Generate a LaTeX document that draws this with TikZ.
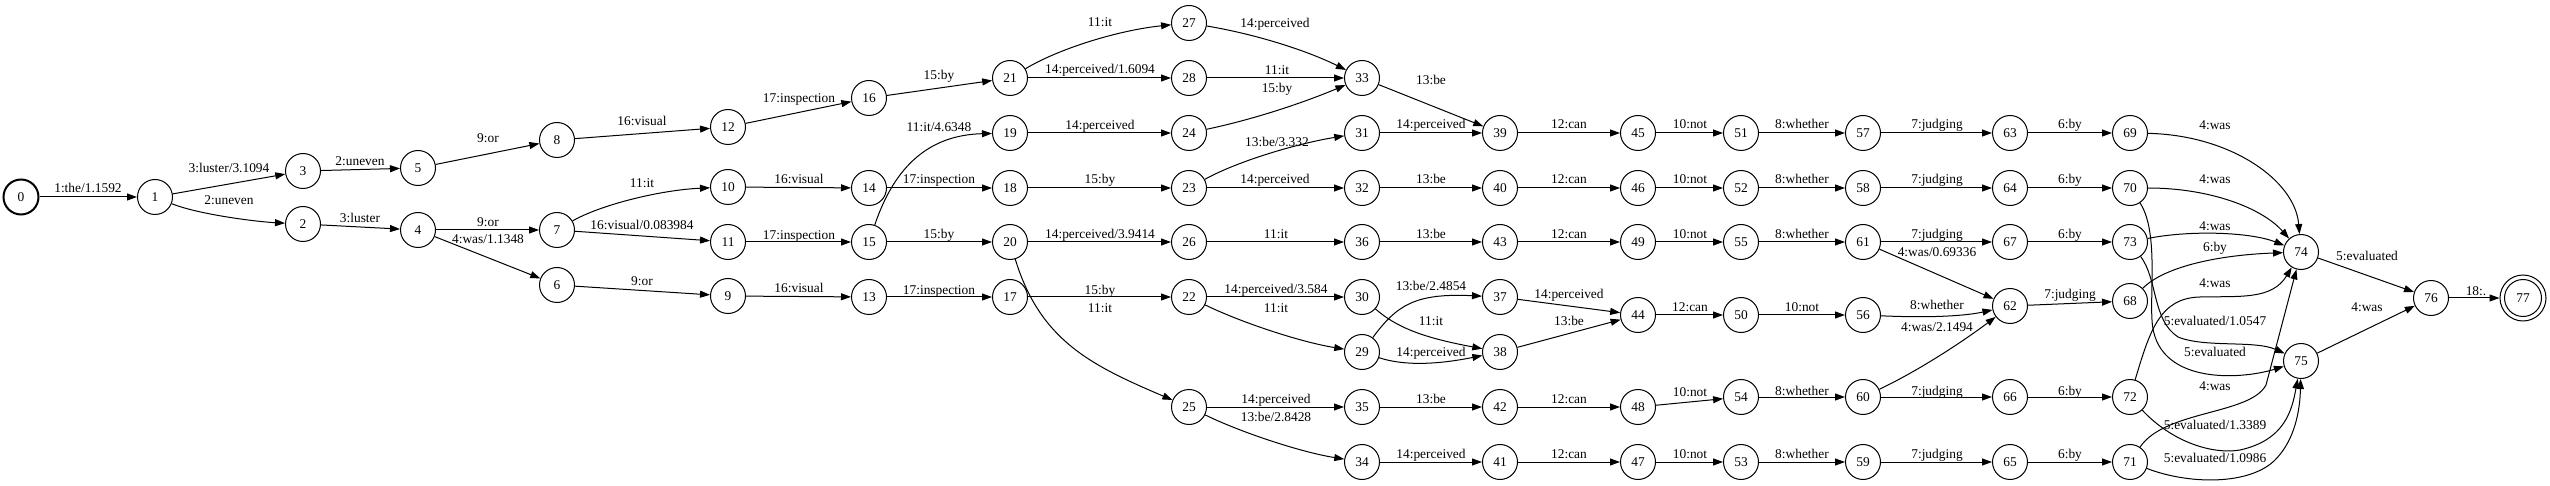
\documentclass[tikz,border=0pt]{standalone}
\usepackage{fontspec}
\setmainfont{Liberation Serif}
\usetikzlibrary{arrows.meta}
\begin{document}
\begin{tikzpicture}[x=0.5pt,y=-0.5pt,
  st/.style={draw,circle,line width=0.5pt,minimum size=17.5pt,inner sep=0pt,font=\fontsize{6.7}{8}\selectfont},
  lab/.style={inner sep=0pt,font=\fontsize{6.7}{8}\selectfont,text height=4.6pt,text depth=1.4pt},
  arr/.style={line width=0.5pt,-{Triangle[length=5pt,width=3.5pt]}}]
\useasboundingbox (0,0) rectangle (2550,486);
% states
\node[st,line width=1pt] (0) at (21,197) {0};
\foreach \n/\x/\y in {1/155/197,3/303/171,2/303/224,5/418/168,4/418/230,
  8/557/140,7/557/230,6/557/285,12/728/127,10/728/187,11/728/242,9/728/296,
  16/869/98,14/869/188,15/869/242,13/869/297,
  21/1010/78,19/1010/133,18/1010/188,20/1010/242,17/1010/297,
  27/1189/23,28/1189/78,24/1189/133,23/1189/188,26/1189/242,22/1189/297,25/1189/407,
  33/1362/78,31/1362/133,32/1362/188,36/1362/242,30/1362/297,29/1362/352,35/1362/407,34/1362/462,
  39/1500/133,40/1500/188,43/1500/242,37/1500/297,38/1500/352,42/1500/407,41/1500/462,
  45/1638/133,46/1638/188,49/1638/242,44/1638/315,48/1638/407,47/1638/462,
  51/1741/133,52/1741/188,55/1741/242,50/1741/315,54/1741/397,53/1741/462,
  57/1863/133,58/1863/188,61/1863/242,56/1863/315,60/1863/397,59/1863/462,
  63/2010/133,64/2010/188,67/2010/242,62/2010/306,66/2010/397,65/2010/462,
  69/2130/133,70/2130/188,73/2130/242,68/2130/301,72/2130/397,71/2130/462,
  74/2301/252,75/2301/361,76/2431/298}
  \node[st] (\n) at (\x,\y) {\n};
\node[st,minimum size=18.5pt] (77) at (2523,298) {77};
\node[st,minimum size=23pt] (77o) at (2523,298) {};
% straight transitions
\foreach \a/\b in {0/1,1/3,3/5,2/4,5/8,4/7,4/6,8/12,7/11,6/9,12/16,10/14,11/15,9/13,
  16/21,14/18,15/20,13/17,21/28,19/24,18/23,20/26,17/22,28/33,23/32,26/36,22/30,25/35,
  33/39,31/39,32/40,36/43,35/42,34/41,39/45,40/46,43/49,37/44,38/44,42/48,41/47,
  45/51,46/52,49/55,44/50,48/54,47/53,51/57,52/58,55/61,50/56,54/60,53/59,
  57/63,58/64,61/67,61/62,60/66,59/65,63/69,64/70,67/73,62/68,66/72,65/71,
  74/76,75/76,76/77o}
  \draw[arr] (\a) -- (\b);
% curved transitions
\draw[arr] (1) .. controls (200,215) and (260,222) .. (2);
\draw[arr] (7) .. controls (600,205) and (660,190) .. (10);
\draw[arr] (15) .. controls (895,165) and (930,135) .. (19);
\draw[arr] (20) .. controls (1040,340) and (1090,365) .. (25);
\draw[arr] (21) .. controls (1060,48) and (1120,30) .. (27);
\draw[arr] (23) .. controls (1240,160) and (1300,143) .. (31);
\draw[arr] (22) .. controls (1240,322) and (1300,342) .. (29);
\draw[arr] (25) .. controls (1240,432) and (1300,452) .. (34);
\draw[arr] (29) .. controls (1397,305) and (1415,293) .. (37);
\draw[arr] (30) .. controls (1397,328) and (1425,338) .. (38);
\draw[arr] (29) .. controls (1410,368) and (1450,362) .. (38);
\draw[arr] (24) .. controls (1260,118) and (1310,100) .. (33);
\draw[arr] (27) .. controls (1260,35) and (1310,52) .. (33);
\draw[arr] (56) .. controls (1930,318) and (1965,316) .. (62);
\draw[arr] (60) .. controls (1920,370) and (1965,340) .. (62);
\draw[arr] (69) .. controls (2230,135) and (2295,180) .. (74);
\draw[arr] (70) .. controls (2210,188) and (2262,208) .. (74);
\draw[arr] (73) .. controls (2190,230) and (2250,232) .. (74);
\draw[arr] (68) .. controls (2165,266) and (2220,255) .. (74);
\draw[arr] (72) .. controls (2150,330) and (2160,298) .. (2200,297) .. controls (2240,296) and (2272,300) .. (74);
\draw[arr] (71) .. controls (2165,410) and (2250,415) .. (2266,385) -- (74);
\draw[arr] (70) .. controls (2158,230) and (2150,290) .. (2152,320) .. controls (2155,385) and (2240,380) .. (75);
\draw[arr] (73) .. controls (2158,280) and (2152,320) .. (2178,337) .. controls (2205,348) and (2255,340) .. (75);
\draw[arr] (72) .. controls (2170,440) and (2210,455) .. (2240,450) .. controls (2285,440) and (2292,410) .. (75);
\draw[arr] (71) .. controls (2190,485) and (2250,485) .. (2275,460) .. controls (2295,440) and (2300,410) .. (75);
% labels
\foreach \x/\y/\t [count=\i] in {88/189/{1:the/1.1592},229/169/{3:luster/3.1094},229/201/{2:uneven},
  360/162/{2:uneven},360/219/{3:luster},488/139/{9:or},488/223/{9:or},488/240/{4:was/1.1348},
  642/122/{16:visual},642/184/{11:it},642/226/{16:visual/0.083984},642/282/{9:or},
  799/99/{17:inspection},799/180/{16:visual},799/236/{17:inspection},799/289/{16:visual},
  939/76/{15:by},939/128/{11:it/4.6348},939/180/{17:inspection},939/235/{15:by},939/291/{17:inspection},
  1100/23/{11:it},1100/70/{14:perceived/1.6094},1100/126/{14:perceived},1100/180/{15:by},
  1100/235/{14:perceived/3.9414},1100/291/{15:by},1100/309/{11:it},
  1275/24/{14:perceived},1277/71/{11:it},1277/89/{15:by},1277/143/{13:be/3.332},1275/180/{14:perceived},
  1276/235/{11:it},1276/290/{14:perceived/3.584},1276/309/{11:it},1276/400/{14:perceived},1276/418/{13:be/2.8428},
  1431/81/{13:be},1431/125/{14:perceived},1431/180/{13:be},1431/235/{13:be},1431/287/{13:be/2.4854},
  1431/322/{11:it},1431/353/{14:perceived},1431/400/{13:be},1431/455/{14:perceived},
  1569/125/{12:can},1569/180/{12:can},1569/235/{12:can},1569/295/{14:perceived},1569/322/{13:be},
  1569/400/{12:can},1569/455/{12:can},
  1690/125/{10:not},1690/180/{10:not},1690/235/{10:not},1690/308/{12:can},1690/393/{10:not},1690/455/{10:not},
  1802/125/{8:whether},1802/180/{8:whether},1802/235/{8:whether},1802/308/{10:not},1802/392/{8:whether},1802/455/{8:whether},
  1937/125/{7:judging},1937/180/{7:judging},1937/235/{7:judging},1937/253/{4:was/0.69336},1937/306/{8:whether},
  1937/328/{4:was/2.1494},1937/392/{7:judging},1937/455/{7:judging},
  2070/125/{6:by},2070/180/{6:by},2070/235/{6:by},2070/295/{7:judging},2070/392/{6:by},2070/455/{6:by},
  2215/126/{4:was},2215/180/{4:was},2215/227/{4:was},2215/248/{6:by},2215/284/{4:was},
  2215/322/{5:evaluated/1.0547},2215/353/{5:evaluated},2215/387/{4:was},2215/426/{5:evaluated/1.3389},
  2215/459/{5:evaluated/1.0986},2367/257/{5:evaluated},2367/308/{4:was},2476/292/{18:.}}
  \node[lab] (lab\i) at (\x,\y) {\t};
\end{tikzpicture}
\end{document}
